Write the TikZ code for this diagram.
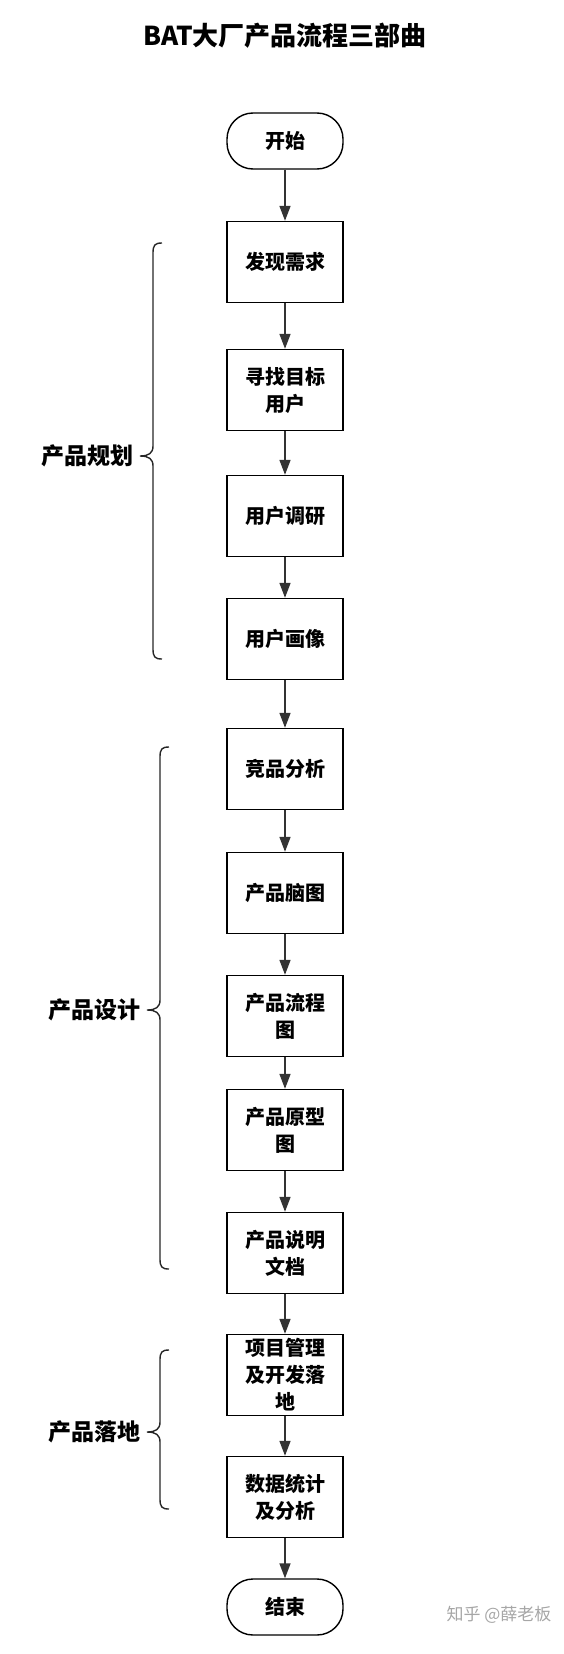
\documentclass[tikz,border=0pt]{standalone}
\usepackage{fontspec}
\setmainfont{Noto Sans CJK SC}
\usetikzlibrary{arrows.meta}
\newcommand\mybrace[4]{%
  \draw[bracestyle] ({#1+9},#2) .. controls ({#1+2},#2) and (#1,{#2+2}) .. (#1,{#2+10})
    -- (#1,{#3-10}) .. controls (#1,{#3-3}) and ({#1-4},#3) .. ({#1-13},#3)
    .. controls ({#1-4},#3) and (#1,{#3+3}) .. (#1,{#3+10})
    -- (#1,{#4-10}) .. controls (#1,{#4-2}) and ({#1+2},#4) .. ({#1+9},#4);}
\begin{document}
\begin{tikzpicture}[x=1pt,y=-1pt,
  stepbox/.style={draw=black, line width=1.4pt, minimum width=116pt, minimum height=81pt,
    align=center, inner sep=0pt, font=\fontsize{20}{27}\selectfont\bfseries},
  term/.style={draw=black, line width=1.4pt, minimum width=116pt, minimum height=56pt,
    rounded corners=26pt, inner sep=0pt, font=\fontsize{20}{27}\selectfont\bfseries},
  arr/.style={draw=black!80, line width=1.6pt, -{Triangle[length=15pt,width=11pt]}},
  bracestyle/.style={draw=black!85, line width=1.4pt},
  grp/.style={font=\fontsize{23}{27}\selectfont\bfseries, anchor=east, inner sep=0pt},
  ttl/.style={font=\fontsize{26}{30}\selectfont\bfseries},
  wm/.style={font=\fontsize{17}{20}\selectfont, text=black!35}]
\useasboundingbox (0,0) rectangle (564,1654);
\node[ttl] (title) at (285,36) {BAT大厂产品流程三部曲};
\node[term] (start) at (285,141) {开始};
\node[stepbox] (b1) at (285,262) {发现需求};
\node[stepbox] (b2) at (285,390) {寻找目标\\用户};
\node[stepbox] (b3) at (285,516) {用户调研};
\node[stepbox] (b4) at (285,639) {用户画像};
\node[stepbox] (b5) at (285,769) {竞品分析};
\node[stepbox] (b6) at (285,893) {产品脑图};
\node[stepbox] (b7) at (285,1016) {产品流程\\图};
\node[stepbox] (b8) at (285,1130) {产品原型\\图};
\node[stepbox] (b9) at (285,1253) {产品说明\\文档};
\node[stepbox] (b10) at (285,1375) {项目管理\\及开发落\\地};
\node[stepbox] (b11) at (285,1497) {数据统计\\及分析};
\node[term] (end) at (285,1607) {结束};
\draw[arr] (start) -- (b1);
\draw[arr] (b1) -- (b2);
\draw[arr] (b2) -- (b3);
\draw[arr] (b3) -- (b4);
\draw[arr] (b4) -- (b5);
\draw[arr] (b5) -- (b6);
\draw[arr] (b6) -- (b7);
\draw[arr] (b7) -- (b8);
\draw[arr] (b8) -- (b9);
\draw[arr] (b9) -- (b10);
\draw[arr] (b10) -- (b11);
\draw[arr] (b11) -- (end);
\mybrace{153}{243}{456}{659}
\mybrace{160}{747}{1010}{1269}
\mybrace{160}{1350}{1432}{1509}
\node[grp] (g1) at (134,456) {产品规划};
\node[grp] (g2) at (141,1010) {产品设计};
\node[grp] (g3) at (141,1432) {产品落地};
\node[wm] (wm) at (499,1615) {知乎 @薛老板};
\end{tikzpicture}
\end{document}
